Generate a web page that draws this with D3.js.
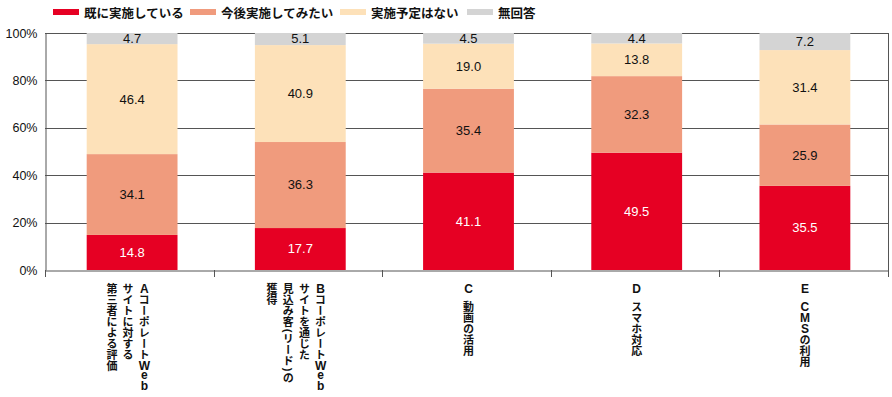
<!DOCTYPE html>
<html>
<head>
<meta charset="utf-8">
<script src="https://cdn.jsdelivr.net/npm/d3@7"></script>
<style>
  body { margin: 0; background: #fff; }
  svg text { font-family: "Liberation Sans", Arial, "Noto Sans CJK JP", sans-serif; }
</style>
</head>
<body>
<svg id="chart" width="892" height="397"></svg>
<script>
// categories, each label is split into vertical columns (right to left)
const categories = ['A', 'B', 'C', 'D', 'E'];
const categoryLines = [
    ['AコーポレートWeb', 'サイトに対する', '第三者による評価'],
    ['BコーポレートWeb', 'サイトを通じた', '見込み客(リード)の', '獲得'],
    ['C 動画の活用'],
    ['D スマホ対応'],
    ['E CMSの利用']
];
const seriesNames = ['既に実施している', '今後実施してみたい', '実施予定はない', '無回答'];
const doneVals = [14.8, 17.7, 41.1, 49.5, 35.5];
const wantVals = [34.1, 36.3, 35.4, 32.3, 25.9];
const noPlanVals = [46.4, 40.9, 19.0, 13.8, 31.4];
const noAnswerVals = [4.7, 5.1, 4.5, 4.4, 7.2];
const yTicks = [0, 20, 40, 60, 80, 100];

const colors = ['#e60023', '#f09b7d', '#fde1b9', '#d4d4d4'];
const labelColors = ['#fff', '#111', '#111', '#111'];

let svg = d3.select('#chart');
let plotLeft = 45, plotRight = 888, plotTop = 33, plotBottom = 270;

let rows = categories.map((c, i) => ({
    cat: c, done: doneVals[i], want: wantVals[i], noPlan: noPlanVals[i], noAnswer: noAnswerVals[i]
}));
let keys = ['done', 'want', 'noPlan', 'noAnswer'];
let stacked = d3.stack().keys(keys)(rows);

let xscale = d3.scaleBand().domain(categories).range([plotLeft + 3, plotRight + 1]).paddingInner(0.46).paddingOuter(0.23);
let xband = d3.scaleBand().domain(categories).range([plotLeft, plotRight]);
let yscale = d3.scaleLinear().domain([0, 100]).range([plotBottom, plotTop]);

// gridlines
svg.append('g').selectAll('line').data(yTicks.slice(1)).enter().append('line')
    .attr('x1', plotLeft).attr('x2', plotRight)
    .attr('y1', d => Math.round(yscale(d)) + 0.5)
    .attr('y2', d => Math.round(yscale(d)) + 0.5)
    .style('stroke', '#555').style('stroke-width', 1);
// right border
svg.append('line')
    .attr('x1', plotRight + 0.5).attr('x2', plotRight + 0.5)
    .attr('y1', Math.round(plotTop)).attr('y2', plotBottom)
    .style('stroke', '#555');

// bars
let layers = svg.append('g').selectAll('g').data(stacked).enter().append('g')
    .style('fill', (d, i) => colors[i]);
layers.selectAll('rect').data(d => d).enter().append('rect')
    .attr('x', d => xscale(d.data.cat))
    .attr('width', xscale.bandwidth())
    .attr('y', d => yscale(d[1]))
    .attr('height', d => yscale(d[0]) - yscale(d[1]));

// value labels
stacked.forEach((layer, li) => {
    svg.append('g').selectAll('text').data(layer).enter().append('text')
        .attr('x', d => xscale(d.data.cat) + xscale.bandwidth() / 2)
        .attr('y', d => (yscale(d[0]) + yscale(d[1])) / 2 + 1)
        .attr('text-anchor', 'middle')
        .attr('dominant-baseline', 'middle')
        .style('font-size', '13px')
        .style('fill', labelColors[li])
        .text((d, i) => d3.format('.1f')(d.data[keys[li]]));
});

// y axis
let yaxis = d3.axisLeft(yscale).tickValues(yTicks).tickFormat(d => d + '%').tickSize(0).tickPadding(8);
let yaxisSel = svg.append('g').attr('transform', `translate(${plotLeft + 0.5},0)`).call(yaxis);
yaxisSel.select('.domain').style('stroke', '#555');
yaxisSel.selectAll('text').style('font-size', '12.5px').style('fill', '#111')
    .style('font-family', '"Liberation Sans", Arial, sans-serif');

// x axis: ticks at category boundaries
let xaxis = d3.axisBottom(xband).tickFormat('').tickSize(0);
let xaxisSel = svg.append('g').attr('transform', `translate(0,${plotBottom + 0.5})`).call(xaxis);
xaxisSel.select('.domain').style('stroke', '#555');
xaxisSel.selectAll('.tick').remove();
svg.append('g').selectAll('line').data([plotLeft].concat(categories.map(c => xband(c) + xband.bandwidth())))
    .enter().append('line')
    .attr('x1', d => Math.round(d) + 0.5).attr('x2', d => Math.round(d) + 0.5)
    .attr('y1', plotBottom).attr('y2', plotBottom + 7)
    .style('stroke', '#555');

// vertical category labels, laid out one character at a time
const labelSize = 11;
function inkHeight(ch) {
    if (/[A-Z]/.test(ch)) return 0.72 * 12;
    if (/[bdfhklt]/.test(ch)) return 0.73 * 12;
    if (/[a-z]/.test(ch)) return 0.53 * 12;
    return 0;
}
function charStep(ch) {
    if (ch === ' ') return 7;
    if (/[A-Za-z]/.test(ch)) return inkHeight(ch) + 2.2;
    if (ch === '(' || ch === ')') return 6;
    return 11;
}
categoryLines.forEach((lines, i) => {
    let cx = xscale(categories[i]) + xscale.bandwidth() / 2 - (lines.length > 1 ? 4 : 0);
    let colGap = 16.2;
    let startX = cx + (lines.length - 1) * colGap / 2;
    lines.forEach((ln, j) => {
        let y = 283.5;
        let colX = startX - j * colGap;
        let col = svg.append('g');
        Array.from(ln).forEach(ch => {
            if (ch !== ' ') {
                let t = col.append('text')
                    .style('font-size', labelSize + 'px')
                    .style('font-weight', 'bold')
                    .style('fill', '#111')
                    .text(ch);
                if (/[A-Za-z]/.test(ch)) {
                    t.attr('x', colX)
                        .attr('y', y + 1 + inkHeight(ch))
                        .attr('text-anchor', 'middle')
                        .style('font-size', '12px')
                        .style('font-family', '"Liberation Sans", Arial, sans-serif');
                } else if (ch === '(' || ch === ')') {
                    t.attr('transform', `translate(${colX},${y + charStep(ch) / 2}) rotate(90)`)
                        .attr('text-anchor', 'middle')
                        .attr('dominant-baseline', 'central')
                        .style('font-family', '"Liberation Sans", Arial, sans-serif');
                } else {
                    t.attr('x', colX).attr('y', y)
                        .style('writing-mode', 'vertical-rl')
                        .style('font-family', '"Noto Sans CJK JP", sans-serif');
                }
            }
            y += charStep(ch);
        });
    });
});

// legend
let legendX = [53, 190, 340, 467];
let legend = svg.append('g').selectAll('g').data(seriesNames).enter().append('g')
    .attr('transform', (d, i) => `translate(${legendX[i]},12)`);
legend.append('rect')
    .attr('x', 0).attr('y', -3).attr('width', 26).attr('height', 6)
    .style('fill', (d, i) => colors[i]);
legend.append('text')
    .attr('x', 31).attr('y', 0)
    .attr('dominant-baseline', 'central')
    .style('font-size', '12.5px')
    .style('font-weight', 'bold')
    .style('fill', '#111')
    .style('font-family', '"Noto Sans CJK JP", sans-serif')
    .text(d => d);
</script>
</body>
</html>
